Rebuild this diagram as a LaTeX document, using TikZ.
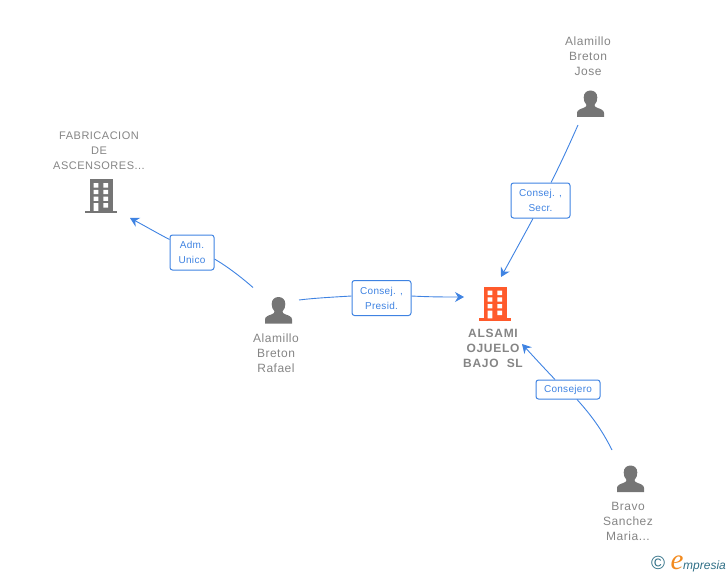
\documentclass[tikz,border=0pt]{standalone}
\usepackage{fontspec}
\setmainfont{Liberation Sans}
\usetikzlibrary{arrows.meta}
\definecolor{linkblue}{HTML}{3F83E2}
\definecolor{icongray}{HTML}{757575}
\definecolor{txtgray}{HTML}{858585}
\definecolor{corp}{HTML}{FF5A2B}
\definecolor{logoteal}{HTML}{2F6F86}
\definecolor{logoorange}{HTML}{F28A1E}
\newfontfamily\logofont{Liberation Serif}
\newfontfamily\logosans{Liberation Sans}
\tikzset{
  conn/.style={draw=linkblue,line width=0.9pt},
  connarrow/.style={conn,-{Stealth[length=9pt,width=10pt,inset=3pt]}},
  rolebox/.style={draw=linkblue,line width=1pt,fill=white,rounded corners=2.5pt,text=linkblue,font=\fontsize{10}{15}\selectfont\addfontfeature{LetterSpace=3},align=center,inner sep=0pt},
  nametext/.style={text=txtgray,font=\fontsize{12}{15}\selectfont\addfontfeature{LetterSpace=4.2},align=center,inner sep=0pt},
  uppertext/.style={text=txtgray,font=\fontsize{11}{15}\selectfont\addfontfeature{LetterSpace=4.5},align=center,inner sep=0pt},
  boldtext/.style={text=txtgray,font=\fontsize{12}{15}\selectfont\bfseries\addfontfeature{LetterSpace=6},align=center,inner sep=0pt},
  iconbox/.style={inner sep=0pt,minimum width=32pt,minimum height=34pt},
}
\newcommand{\personicon}[1]{%
  \fill[icongray,shift={(#1)}] (-13.5,13.5) -- (-13.5,9.5) .. controls (-13.5,6.5) and (-10,5.5) .. (-6.5,4.2)
    .. controls (-4.5,3.4) and (-4,2.6) .. (-4,1.4) .. controls (-6,-0.5) and (-6.8,-3) .. (-6.8,-6)
    .. controls (-6.8,-10.5) and (-3.8,-13) .. (0,-13) .. controls (3.8,-13) and (6.8,-10.5) .. (6.8,-6)
    .. controls (6.8,-3) and (6,-0.5) .. (4,1.4) .. controls (4,2.6) and (4.5,3.4) .. (6.5,4.2)
    .. controls (10,5.5) and (13.5,6.5) .. (13.5,9.5) -- (13.5,13.5) -- cycle;}
\newcommand{\buildingicon}[2]{%
  \begin{scope}[shift={(#1)}]
    \fill[#2] (-10.7,-16.3) rectangle (11.7,15.5);
    \fill[#2] (-15.7,15.3) rectangle (16,17.7);
    \fill[white] (-7.3,-12.3) rectangle (-2.7,-8) (2.3,-12.3) rectangle (7,-8);
    \fill[white] (-7.3,-5.7) rectangle (-2.7,-1.3) (2.3,-5.7) rectangle (7,-1.3);
    \fill[white] (-7.3,1) rectangle (-2.7,5.3) (2.3,1) rectangle (7,5.3);
    \fill[white] (-7.3,7.7) rectangle (-2.7,15.3) (2.3,7.7) rectangle (7,12);
  \end{scope}}
\begin{document}
\begin{tikzpicture}[x=1pt,y=-1pt]
\useasboundingbox (0,0) rectangle (728,575);
% icons
\node[iconbox] (fabricacion) at (101,195.5) {};
\buildingicon{fabricacion.center}{icongray}
\node[iconbox] (alsami) at (495,303) {};
\buildingicon{alsami.center}{corp}
\node[iconbox] (rafael) at (278.5,310) {};
\personicon{rafael.center}
\node[iconbox] (jose) at (590.5,103.5) {};
\personicon{jose.center}
\node[iconbox] (bravo) at (630.5,478.5) {};
\personicon{bravo.center}
% texts
\node[uppertext] (tfab) at (99,151) {FABRICACION\\DE\\ASCENSORES...};
\node[boldtext] (talsami) at (493,348.5) {ALSAMI\\OJUELO\\BAJO\ \ SL};
\node[nametext] (trafael) at (276,353.5) {Alamillo\\Breton\\Rafael};
\node[nametext] (tjose) at (588,56.5) {Alamillo\\Breton\\Jose};
\node[nametext] (tbravo) at (628,521.5) {Bravo\\Sanchez\\Maria...};
% role labels
\node[rolebox,minimum width=44pt,minimum height=35pt] (adm) at (192,252.5) {\raisebox{-1pt}{Adm.}\\\raisebox{-1pt}{Unico}};
\node[rolebox,minimum width=59pt,minimum height=35pt] (presid) at (381.5,298) {Consej. ,\\Presid.};
\node[rolebox,minimum width=59pt,minimum height=35pt] (secr) at (540.5,200.5) {Consej. ,\\Secr.};
\node[rolebox,minimum width=64pt,minimum height=19pt] (consejero) at (568,389.5) {\raisebox{-3.5pt}{Consejero}};
% connectors
\draw[conn] ([shift={(-25.5,-22.5)}]rafael.center) .. controls (241,277) and (228,267) .. (adm.east |- 0,259);
\draw[connarrow] (adm.west |- 0,239.5) .. controls (157,233) and (145,226) .. ([shift={(29,22.5)}]fabricacion.center);
\draw[conn] ([shift={(20.5,-10)}]rafael.center) .. controls (315,298) and (335,297) .. (presid.west |- 0,296);
\draw[connarrow] (presid.east |- 0,296) .. controls (430,297) and (445,297) .. ([shift={(-31,-6)}]alsami.center);
\draw[conn] ([shift={(-12.5,21.5)}]jose.center) .. controls (570,143) and (561,163) .. (secr.north -| 551,0);
\draw[connarrow] (secr.south -| 533,0) .. controls (523,237) and (512,257) .. ([shift={(6,-26)}]alsami.center);
\draw[conn] ([shift={(-18.5,-28.5)}]bravo.center) .. controls (601,428) and (590,414) .. (consejero.south -| 577,0);
\draw[connarrow] (consejero.north -| 555,0) .. controls (544,368) and (533,356) .. ([shift={(27,41)}]alsami.center);
% logo
\node[inner sep=0pt,text=logoteal,font=\logosans\fontsize{19}{19}\selectfont] (copy) at (658,563) {©};
\node[inner sep=0pt,text=logoorange,font=\logofont\itshape\fontsize{29}{29}\selectfont,anchor=base] (elogo) at (677,569.5) {e};
\node[inner sep=0pt,anchor=base west,text=logoteal,font=\logosans\itshape\fontsize{12}{14}\selectfont] (mlogo) at (683,569) {mpresia};
\end{tikzpicture}
\end{document}
